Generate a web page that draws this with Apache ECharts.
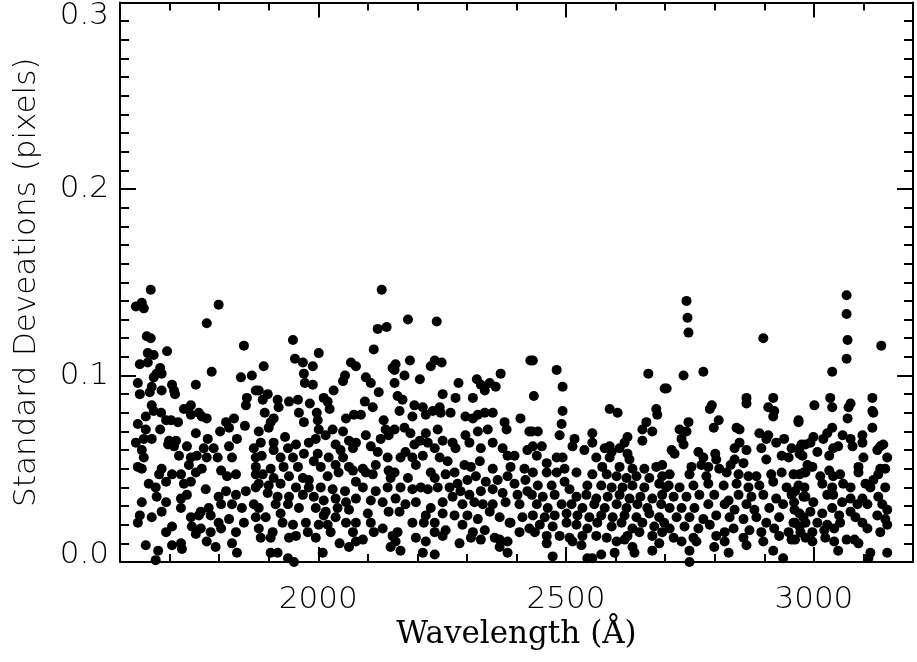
<!DOCTYPE html>
<html>
<head>
<meta charset="utf-8">
<script src="https://cdn.jsdelivr.net/npm/echarts@6/dist/echarts.min.js"></script>
<style>
  html, body { margin: 0; padding: 0; background: #fff; }
  #chart { width: 917px; height: 662px; }
</style>
</head>
<body>
<div id="chart"></div>
<script>
// wavelength (A), standard deviation (pixels), band by band
const band1600 = [
  [1632,0.137],[1644,0.139],[1648,0.136],[1662,0.146],[1799,0.138],[1775,0.128],[1850,0.116],[1654,0.121],
  [1662,0.120],[1656,0.112],[1668,0.111],[1695,0.113],[1640,0.106],[1656,0.107],[1681,0.104],[1785,0.102],
  [1844,0.099],[1866,0.100],[1674,0.101],[1684,0.101],[1668,0.099],[1636,0.096],[1664,0.094],[1684,0.092],
  [1705,0.095],[1709,0.092],[1753,0.095],[1640,0.090],[1660,0.091],[1711,0.090],[1856,0.088],[1874,0.092],
  [1854,0.084],[1664,0.084],[1668,0.081],[1683,0.080],[1729,0.082],[1743,0.084],[1743,0.079],[1759,0.080],
  [1765,0.078],[1775,0.077],[1652,0.078],[1636,0.074],[1693,0.076],[1703,0.076],[1717,0.075],[1830,0.077],
  [1814,0.075],[1852,0.073],[1652,0.071],[1681,0.071],[1802,0.070],[1820,0.072],[1648,0.066],[1664,0.066],
  [1753,0.069],[1777,0.066],[1699,0.065],[1713,0.065],[1836,0.066],[1632,0.064],[1697,0.063],[1709,0.062],
  [1735,0.062],[1769,0.061],[1789,0.061],[1820,0.062],[1870,0.061],[1644,0.060],[1719,0.057],[1743,0.056],
  [1755,0.057],[1775,0.056],[1797,0.056],[1826,0.056],[1874,0.056],[1648,0.056],[1636,0.051],[1644,0.050],
  [1684,0.050],[1705,0.047],[1739,0.052],[1753,0.048],[1765,0.050],[1804,0.049],[1816,0.046],[1834,0.047],
  [1874,0.047],[1679,0.047],[1658,0.042],[1672,0.040],[1693,0.043],[1723,0.047],[1729,0.042],[1743,0.043],
  [1773,0.039],[1799,0.035],[1814,0.038],[1834,0.036],[1854,0.038],[1874,0.040],[1674,0.035],[1693,0.032],
  [1723,0.034],[1735,0.036],[1644,0.032],[1723,0.029],[1763,0.027],[1779,0.029],[1804,0.031],[1826,0.031],
  [1846,0.029],[1870,0.031],[1640,0.025],[1664,0.024],[1684,0.027],[1743,0.024],[1759,0.025],[1783,0.025],
  [1799,0.021],[1820,0.023],[1850,0.021],[1874,0.024],[1636,0.021],[1705,0.019],[1745,0.019],[1763,0.018],
  [1783,0.016],[1804,0.018],[1693,0.016],[1834,0.016],[1753,0.015],[1775,0.011],[1652,0.009],[1705,0.009],
  [1723,0.010],[1725,0.007],[1793,0.008],[1826,0.010],[1677,0.006],[1836,0.005],[1672,0.001]
];
const band1900 = [
  [2128,0.146],[2120,0.125],[2138,0.126],[1949,0.119],[2112,0.114],[2001,0.112],[1890,0.105],[1953,0.109],
  [1969,0.107],[1989,0.105],[2066,0.107],[2076,0.105],[2150,0.104],[1971,0.101],[2054,0.100],[2050,0.097],
  [2096,0.099],[2106,0.096],[1973,0.096],[1989,0.095],[2031,0.092],[1880,0.092],[2122,0.091],[1898,0.090],
  [1888,0.087],[1918,0.087],[1941,0.086],[1959,0.087],[1983,0.085],[2011,0.088],[2019,0.086],[2094,0.086],
  [2110,0.083],[1920,0.083],[1892,0.080],[1961,0.080],[1997,0.080],[2023,0.082],[1910,0.077],[1999,0.076],
  [1971,0.075],[2056,0.077],[2072,0.079],[2086,0.079],[2132,0.076],[1904,0.075],[1900,0.072],[1880,0.070],
  [2001,0.071],[2029,0.071],[2050,0.070],[2136,0.071],[1933,0.067],[1910,0.064],[1884,0.064],[1995,0.066],
  [1981,0.064],[2015,0.068],[2062,0.065],[2076,0.064],[2096,0.068],[2126,0.066],[2142,0.068],[1955,0.063],
  [1939,0.061],[1910,0.060],[2035,0.063],[2045,0.060],[2070,0.061],[2106,0.062],[2120,0.059],[1886,0.057],
  [1924,0.056],[1949,0.056],[1971,0.058],[1999,0.058],[2021,0.056],[2050,0.056],[2140,0.056],[1874,0.051],
  [1904,0.050],[1930,0.051],[1959,0.051],[1991,0.054],[2005,0.051],[2035,0.052],[2062,0.051],[2090,0.050],
  [2116,0.052],[2142,0.049],[1888,0.047],[1910,0.045],[1941,0.046],[1969,0.045],[1981,0.044],[2019,0.046],
  [2041,0.048],[2070,0.049],[2096,0.048],[2110,0.047],[2146,0.045],[1880,0.042],[1900,0.041],[1924,0.042],
  [1955,0.040],[1981,0.040],[2005,0.040],[2029,0.039],[2054,0.038],[2076,0.043],[2090,0.040],[2116,0.038],
  [2140,0.040],[1898,0.037],[1918,0.035],[1941,0.035],[1969,0.036],[1991,0.035],[2011,0.033],[2035,0.034],
  [2056,0.032],[2076,0.034],[2106,0.033],[2130,0.032],[1880,0.029],[1914,0.031],[1939,0.031],[1961,0.029],
  [1995,0.029],[2015,0.027],[2039,0.029],[2062,0.028],[2100,0.026],[2142,0.027],[1894,0.024],[1924,0.026],
  [1949,0.020],[1975,0.021],[2001,0.020],[2011,0.025],[2035,0.024],[2056,0.021],[2076,0.021],[2106,0.021],
  [1880,0.018],[1908,0.016],[1928,0.021],[1955,0.014],[1979,0.016],[1995,0.013],[2019,0.020],[2025,0.016],
  [2070,0.016],[2112,0.016],[2130,0.018],[2150,0.014],[1884,0.013],[1904,0.013],[1941,0.013],[2043,0.010],
  [2062,0.008],[2076,0.011],[2090,0.012],[2146,0.008],[1904,0.005],[1918,0.005],[1939,0.002],[1951,0.000],
  [2009,0.005]
];
const band2150 = [
  [2181,0.130],[2239,0.129],[2185,0.108],[2235,0.108],[2249,0.107],[2227,0.105],[2156,0.106],[2154,0.103],
  [2428,0.108],[2174,0.100],[2205,0.098],[2283,0.096],[2320,0.098],[2328,0.095],[2346,0.096],[2336,0.092],
  [2358,0.094],[2368,0.101],[2154,0.096],[2251,0.090],[2277,0.088],[2312,0.088],[2160,0.089],[2170,0.087],
  [2194,0.084],[2164,0.081],[2211,0.083],[2217,0.079],[2231,0.081],[2245,0.083],[2247,0.080],[2267,0.080],
  [2297,0.078],[2312,0.077],[2322,0.079],[2336,0.080],[2352,0.080],[2190,0.078],[2408,0.077],[2376,0.075],
  [2380,0.071],[2154,0.071],[2174,0.072],[2186,0.069],[2217,0.069],[2241,0.071],[2297,0.068],[2305,0.064],
  [2322,0.070],[2342,0.071],[2352,0.064],[2426,0.070],[2205,0.065],[2194,0.063],[2176,0.059],[2221,0.064],
  [2251,0.065],[2271,0.064],[2277,0.061],[2235,0.061],[2328,0.061],[2372,0.061],[2382,0.057],[2396,0.057],
  [2422,0.060],[2166,0.056],[2190,0.056],[2211,0.057],[2245,0.056],[2261,0.054],[2295,0.052],[2308,0.051],
  [2326,0.054],[2352,0.050],[2388,0.051],[2416,0.050],[2154,0.048],[2181,0.045],[2197,0.052],[2227,0.048],
  [2235,0.045],[2257,0.047],[2275,0.048],[2281,0.042],[2301,0.044],[2318,0.046],[2338,0.043],[2362,0.044],
  [2382,0.046],[2396,0.042],[2418,0.044],[2166,0.040],[2190,0.039],[2207,0.040],[2221,0.039],[2241,0.040],
  [2265,0.040],[2287,0.038],[2305,0.036],[2328,0.038],[2352,0.039],[2372,0.037],[2402,0.036],[2422,0.038],
  [2156,0.034],[2176,0.031],[2197,0.032],[2227,0.029],[2251,0.032],[2271,0.035],[2291,0.031],[2315,0.032],
  [2332,0.031],[2352,0.031],[2378,0.032],[2406,0.031],[2164,0.027],[2190,0.021],[2217,0.025],[2251,0.026],
  [2275,0.025],[2301,0.025],[2322,0.023],[2346,0.027],[2366,0.024],[2386,0.021],[2412,0.024],[2160,0.016],
  [2213,0.021],[2235,0.021],[2257,0.017],[2291,0.020],[2312,0.016],[2336,0.017],[2356,0.013],[2388,0.021],
  [2406,0.016],[2426,0.018],[2156,0.011],[2197,0.013],[2217,0.011],[2235,0.016],[2251,0.014],[2285,0.010],
  [2308,0.013],[2328,0.012],[2366,0.012],[2382,0.011],[2166,0.006],[2211,0.005],[2235,0.004],[2366,0.008],
  [2382,0.005]
];
const band2430 = [
  [2433,0.108],[2481,0.103],[2493,0.094],[2435,0.089],[2666,0.101],[2699,0.093],[2493,0.081],[2588,0.082],
  [2604,0.080],[2682,0.082],[2684,0.079],[2662,0.075],[2491,0.074],[2654,0.071],[2674,0.070],[2431,0.070],
  [2443,0.070],[2487,0.068],[2553,0.069],[2553,0.064],[2517,0.066],[2513,0.062],[2624,0.067],[2618,0.064],
  [2608,0.061],[2654,0.065],[2433,0.062],[2451,0.062],[2441,0.057],[2537,0.060],[2578,0.061],[2588,0.062],
  [2592,0.059],[2624,0.058],[2628,0.055],[2561,0.056],[2588,0.056],[2481,0.056],[2493,0.056],[2461,0.053],
  [2573,0.051],[2608,0.051],[2634,0.050],[2658,0.050],[2682,0.051],[2694,0.052],[2433,0.048],[2461,0.048],
  [2481,0.048],[2497,0.050],[2521,0.048],[2553,0.047],[2582,0.047],[2602,0.046],[2622,0.045],[2642,0.046],
  [2668,0.045],[2694,0.046],[2443,0.041],[2471,0.041],[2497,0.043],[2507,0.039],[2543,0.041],[2571,0.041],
  [2592,0.040],[2614,0.040],[2634,0.041],[2658,0.040],[2688,0.042],[2702,0.040],[2431,0.036],[2453,0.035],
  [2477,0.036],[2521,0.035],[2541,0.036],[2561,0.034],[2584,0.035],[2608,0.036],[2628,0.034],[2650,0.035],
  [2674,0.034],[2694,0.036],[2441,0.031],[2463,0.029],[2491,0.031],[2511,0.031],[2533,0.029],[2557,0.031],
  [2578,0.029],[2602,0.031],[2622,0.029],[2644,0.031],[2664,0.029],[2692,0.031],[2433,0.025],[2457,0.024],
  [2477,0.025],[2501,0.026],[2523,0.025],[2547,0.024],[2571,0.025],[2594,0.024],[2618,0.025],[2642,0.024],
  [2668,0.026],[2688,0.024],[2447,0.020],[2473,0.019],[2501,0.021],[2521,0.020],[2543,0.018],[2563,0.021],
  [2592,0.019],[2612,0.021],[2634,0.018],[2654,0.021],[2678,0.019],[2698,0.021],[2437,0.016],[2461,0.014],
  [2487,0.014],[2507,0.013],[2533,0.014],[2561,0.014],[2582,0.013],[2624,0.014],[2648,0.016],[2674,0.014],
  [2694,0.016],[2461,0.010],[2513,0.011],[2531,0.009],[2602,0.011],[2618,0.012],[2634,0.008],[2688,0.010],
  [2473,0.003],[2543,0.002],[2553,0.002],[2571,0.004],[2598,0.005],[2638,0.005],[2674,0.006]
];
const band2700 = [
  [2743,0.140],[2745,0.131],[2747,0.123],[2898,0.120],[2737,0.100],[2777,0.102],[2703,0.093],[2864,0.088],
  [2864,0.085],[2918,0.088],[2908,0.083],[2920,0.081],[2918,0.078],[2794,0.084],[2790,0.082],[2808,0.076],
  [2798,0.072],[2747,0.075],[2729,0.071],[2743,0.070],[2733,0.066],[2737,0.063],[2844,0.072],[2850,0.071],
  [2969,0.075],[2890,0.069],[2908,0.068],[2904,0.066],[2940,0.066],[2924,0.064],[2850,0.064],[2713,0.060],
  [2719,0.058],[2767,0.059],[2777,0.056],[2801,0.058],[2803,0.055],[2840,0.061],[2864,0.060],[2894,0.061],
  [2935,0.057],[2949,0.056],[2955,0.061],[2975,0.063],[2971,0.058],[2840,0.055],[2858,0.053],[2904,0.055],
  [2753,0.051],[2773,0.052],[2787,0.051],[2809,0.050],[2832,0.052],[2709,0.047],[2749,0.047],[2783,0.046],
  [2824,0.048],[2848,0.047],[2868,0.046],[2884,0.046],[2914,0.047],[2935,0.048],[2959,0.047],[2979,0.048],
  [2707,0.041],[2729,0.040],[2757,0.041],[2787,0.042],[2818,0.041],[2844,0.042],[2868,0.040],[2890,0.041],
  [2918,0.043],[2945,0.040],[2969,0.041],[2717,0.035],[2743,0.035],[2769,0.036],[2799,0.036],[2828,0.033],
  [2848,0.036],[2874,0.035],[2898,0.036],[2924,0.034],[2955,0.036],[2979,0.035],[2709,0.029],[2733,0.029],
  [2759,0.029],[2787,0.031],[2820,0.031],[2840,0.028],[2864,0.031],[2880,0.028],[2910,0.029],[2938,0.031],
  [2961,0.028],[2723,0.024],[2749,0.024],[2777,0.023],[2803,0.025],[2830,0.024],[2858,0.023],[2884,0.024],
  [2904,0.021],[2930,0.024],[2959,0.021],[2979,0.024],[2709,0.018],[2739,0.019],[2767,0.018],[2790,0.020],
  [2820,0.016],[2838,0.018],[2870,0.017],[2894,0.016],[2920,0.018],[2949,0.016],[2971,0.019],[2717,0.013],
  [2733,0.011],[2757,0.013],[2763,0.011],[2803,0.014],[2820,0.011],[2858,0.013],[2898,0.011],[2930,0.014],
  [2955,0.012],[2749,0.006],[2799,0.008],[2828,0.005],[2864,0.009],[2918,0.006],[2749,0.000],[2938,0.002]
];
const band2960 = [
  [3066,0.143],[3066,0.133],[3068,0.119],[3066,0.109],[3136,0.116],[3037,0.102],[3033,0.088],[3037,0.083],
  [3001,0.084],[3074,0.085],[3070,0.083],[3118,0.088],[3118,0.081],[3120,0.080],[3068,0.077],[2969,0.076],
  [3118,0.072],[3037,0.072],[3027,0.069],[3019,0.066],[2999,0.067],[2993,0.064],[3058,0.068],[3074,0.066],
  [3078,0.062],[3098,0.068],[3098,0.064],[2983,0.063],[2971,0.061],[3039,0.061],[3049,0.062],[3134,0.062],
  [3140,0.063],[3128,0.060],[2977,0.057],[3007,0.059],[3031,0.057],[3100,0.056],[3148,0.056],[2987,0.052],
  [2997,0.051],[2971,0.047],[2983,0.048],[3031,0.049],[3013,0.046],[3039,0.046],[3053,0.047],[3090,0.051],
  [3090,0.048],[3134,0.050],[3144,0.050],[3130,0.047],[3120,0.044],[2981,0.040],[3017,0.042],[3037,0.040],
  [3027,0.036],[3059,0.042],[3074,0.040],[3104,0.042],[3114,0.040],[3144,0.040],[3130,0.035],[2962,0.038],
  [2960,0.032],[2983,0.035],[2999,0.032],[3039,0.036],[3057,0.032],[3074,0.034],[3088,0.031],[3098,0.034],
  [3108,0.031],[3138,0.031],[3148,0.028],[2971,0.026],[2993,0.027],[3017,0.026],[3037,0.029],[3051,0.025],
  [3074,0.027],[3084,0.024],[3128,0.025],[3144,0.023],[2962,0.021],[2983,0.021],[3007,0.021],[3027,0.020],
  [3053,0.021],[3098,0.021],[3108,0.018],[3134,0.016],[3148,0.020],[2973,0.016],[2997,0.016],[3021,0.017],
  [3041,0.018],[2962,0.012],[2983,0.013],[2997,0.011],[3023,0.013],[3041,0.011],[3066,0.012],[3082,0.012],
  [3090,0.010],[3049,0.006],[3114,0.005],[3110,0.002],[3148,0.005]
];

const xMajorTicks = [2000, 2500, 3000]
const xMinorTicks = [1700, 1800, 1900, 2100, 2200, 2300, 2400, 2600, 2700, 2800, 2900, 3100]

const points = [].concat(band1600, band1900, band2150, band2430, band2700, band2960)

const labelFont = { fontFamily: 'DejaVu Sans', fontSize: 31, fontWeight: 200, color: '#000' }
const black = { color: '#000', width: 2 }

function tickAxis(position, values, len, extra) {
  return Object.assign({
    type: 'value', position, min: 1600, max: 3200,
    axisLine: { show: false },
    axisTick: { show: true, inside: true, length: len, lineStyle: black, customValues: values },
    axisLabel: { show: false },
    splitLine: { show: false },
  }, extra)
}

const chart = echarts.init(document.getElementById('chart'), null, { renderer: 'canvas' })

chart.setOption({
  animation: false,
  backgroundColor: '#fff',
  grid: { left: 120, right: 4, top: 1, bottom: 100, containLabel: false },
  xAxis: [
    tickAxis('bottom', xMajorTicks, 15, {
      axisLine: { show: true, lineStyle: black },
      axisLabel: Object.assign({
        show: true, margin: 22, customValues: xMajorTicks,
        formatter: v => String(v),
      }, labelFont),
      name: 'Wavelength (Å)',
      nameLocation: 'middle',
      nameGap: 52,
      nameTextStyle: { fontFamily: 'DejaVu Serif', fontSize: 31, color: '#000' },
    }),
    tickAxis('bottom', xMinorTicks, 8),
    tickAxis('top', xMajorTicks, 15, { axisLine: { show: true, lineStyle: black } }),
    tickAxis('top', xMinorTicks, 8),
  ],
  yAxis: [
    {
      type: 'value', position: 'left', min: 0, max: 0.3, interval: 0.1,
      axisLine: { show: true, lineStyle: black },
      axisTick: { show: true, inside: true, length: 16, lineStyle: black },
      minorTick: { show: true, splitNumber: 10, length: 9, lineStyle: black },
      splitLine: { show: false },
      axisLabel: Object.assign({
        margin: 11,
        formatter: v => {
          if (Math.abs(v - 0.3) < 1e-6) return '{t|0.3}'
          if (Math.abs(v) < 1e-6) return '{b|0.0}'
          return v.toFixed(1)
        },
        rich: {
          t: Object.assign({ padding: [26, 0, 0, 0] }, labelFont),
          b: Object.assign({ padding: [0, 0, 14, 0] }, labelFont),
        },
      }, labelFont),
      name: 'Standard Deveations (pixels)',
      nameLocation: 'middle',
      nameGap: 78,
      nameTextStyle: { fontFamily: 'DejaVu Sans', fontSize: 31, fontWeight: 200, color: '#000' },
    },
    {
      type: 'value', position: 'right', min: 0, max: 0.3, interval: 0.1,
      axisLine: { show: true, lineStyle: black },
      axisTick: { show: true, inside: true, length: 16, lineStyle: black },
      minorTick: { show: true, splitNumber: 10, length: 9, lineStyle: black },
      splitLine: { show: false },
      axisLabel: { show: false },
    },
  ],
  series: [{
    type: 'scatter',
    xAxisIndex: 0,
    yAxisIndex: 0,
    data: points,
    symbol: 'circle',
    symbolSize: 10,
    itemStyle: { color: '#000', opacity: 1 },
    silent: true,
  }],
})
</script>
</body>
</html>
